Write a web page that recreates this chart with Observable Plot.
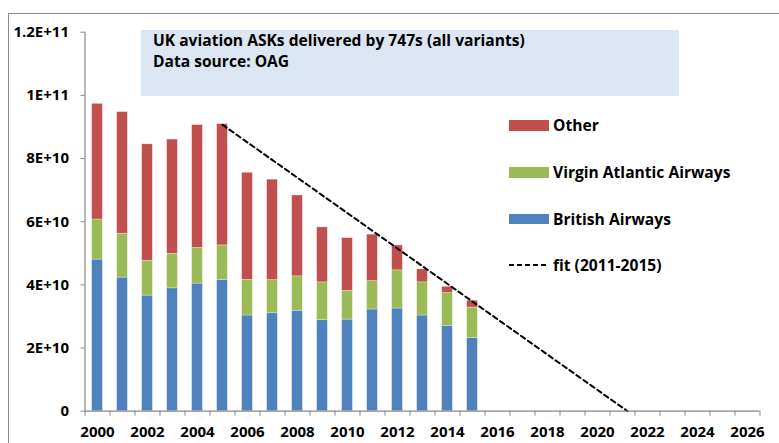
<!DOCTYPE html>
<html>
<head>
<meta charset="utf-8">
<script src="https://cdn.jsdelivr.net/npm/d3@7"></script>
<script src="https://cdn.jsdelivr.net/npm/@observablehq/plot@0.6"></script>
<style>
  html, body { margin: 0; padding: 0; background: #fff; }
  #wrap { position: relative; width: 779px; height: 443px; overflow: hidden; font-family: "Open Sans", Lato, sans-serif; font-weight: bold; color: #000; }
  #frame { position: absolute; left: 8px; top: 13px; width: 820px; height: 500px; border: 1px solid #8c8c8c; box-sizing: border-box; }
  #chart { position: absolute; left: 0; top: 0; }
  #titlebox { position: absolute; left: 141px; top: 29.5px; width: 538px; height: 66px; background: #dce6f2; }
  .tline { position: absolute; left: 153px; font-size: 15.6px; line-height: 16px; white-space: nowrap; }
  .leg { position: absolute; left: 509px; height: 20px; display: flex; align-items: center; font-size: 15.6px; white-space: nowrap; }
  .sw { width: 40px; height: 10.5px; margin-right: 4px; }
</style>
</head>
<body>
<div id="wrap">
  <div id="frame"></div>
  <div id="titlebox"></div>
  <div id="chart"></div>
  <div id="title"></div>
  <div id="legend"></div>
</div>
<script>
// ---- data (values in ASKs) ----
const years = [2000, 2001, 2002, 2003, 2004, 2005, 2006, 2007, 2008, 2009, 2010, 2011, 2012, 2013, 2014, 2015];
const britishAirways = [48.0, 42.3, 36.6, 38.9, 40.4, 41.6, 30.3, 31.0, 31.8, 28.8, 29.0, 32.2, 32.5, 30.3, 26.9, 23.2].map(v => v * 1e9);
const virginAtlantic = [12.7, 13.9, 11.0, 10.9, 11.3, 10.9, 11.3, 10.5, 10.9, 12.0, 9.1, 9.0, 12.1, 10.5, 10.5, 9.6].map(v => v * 1e9);
const other = [36.6, 38.5, 36.9, 36.2, 38.9, 38.4, 33.9, 31.8, 25.6, 17.4, 16.7, 14.7, 7.9, 4.1, 2.0, 2.2].map(v => v * 1e9);
const seriesNames = ["British Airways", "Virgin Atlantic Airways", "Other"];
const seriesColors = ["#4f81bd", "#9bbb59", "#c0504d"];
const fitYears = [2005, 2021.2];
const fitValues = [90.7e9, 0];
const fitLabel = "fit (2011-2015)";
const yTicks = [0, 2e10, 4e10, 6e10, 8e10, 1e11, 1.2e11];
const yTickLabels = ["0", "2E+10", "4E+10", "6E+10", "8E+10", "1E+11", "1.2E+11"];
const xLabelYears = [2000, 2002, 2004, 2006, 2008, 2010, 2012, 2014, 2016, 2018, 2020, 2022, 2024, 2026];
const xDomain = [1999.5, 2026.5];
const titleLines = ["UK aviation ASKs delivered by 747s (all variants)", "Data source: OAG"];

// ---- build stacked table ----
const seriesValues = [britishAirways, virginAtlantic, other];
const stacked = [];
years.forEach((yr, i) => {
  let base = 0;
  seriesValues.forEach((vals, s) => {
    stacked.push({year: yr, series: seriesNames[s], y1: base, y2: base + vals[i]});
    base += vals[i];
  });
});
const fit = fitYears.map((yr, i) => ({year: yr, value: fitValues[i]}));
const xTickPositions = d3.range(xDomain[0], xDomain[1] + 0.01, 1);

const plot = Plot.plot({
  width: 779,
  height: 443,
  marginLeft: 84.5,
  marginRight: 19.5,
  marginTop: 31.7,
  marginBottom: 32.3,
  style: {fontFamily: "'Open Sans', Lato, sans-serif", fontWeight: "bold", fontSize: "15px", color: "#000", background: "transparent"},
  x: {domain: xDomain, axis: null},
  y: {domain: [0, 1.2e11], axis: null},
  color: {domain: seriesNames, range: seriesColors},
  marks: [
    Plot.rect(stacked, {x1: d => d.year - 0.215, x2: d => d.year + 0.215, y1: "y1", y2: "y2", fill: "series", stroke: "#ffffff", strokeOpacity: 0.5, strokeWidth: 0.6}),
    Plot.line(fit, {x: "year", y: "value", stroke: "#000", strokeWidth: 2, strokeDasharray: "5,3.5"}),
    Plot.ruleX([xDomain[0]], {y1: 0, y2: 1.2e11, stroke: "#868686", strokeWidth: 1.2}),
    Plot.ruleY([0], {x1: xDomain[0], x2: xDomain[1], stroke: "#868686", strokeWidth: 1.2}),
    Plot.axisY({ticks: yTicks, label: null, tickSize: 4, tickPadding: 12, stroke: "#868686", tickFormat: d => yTickLabels[yTicks.indexOf(d)], fill: "#000"}),
    Plot.axisX({ticks: xTickPositions, label: null, tickSize: 5, tickFormat: () => "", stroke: "#868686"}),
    Plot.axisX({ticks: xLabelYears, label: null, tickSize: 0, tickPadding: 15.5, tickFormat: d => String(d), fill: "#000"})
  ]
});
document.getElementById("chart").appendChild(plot);

const titleTops = [31.6, 53.2];
document.getElementById("title").innerHTML = titleLines.map((t, i) => `<div class="tline" style="top:${titleTops[i]}px">${t}</div>`).join("");

const legendItems = [
  {label: seriesNames[2], color: seriesColors[2], top: 115.3},
  {label: seriesNames[1], color: seriesColors[1], top: 162.3},
  {label: seriesNames[0], color: seriesColors[0], top: 209},
  {label: fitLabel, dash: true, top: 255}
];
const leg = document.getElementById("legend");
legendItems.forEach(it => {
  const el = document.createElement("div");
  el.className = "leg";
  el.style.top = it.top + "px";
  if (it.dash) {
    el.innerHTML = `<svg width="40" height="10" style="margin-right:4px"><line x1="0" y1="5" x2="40" y2="5" stroke="#000" stroke-width="2" stroke-dasharray="5,3"/></svg><span>${it.label}</span>`;
  } else {
    el.innerHTML = `<div class="sw" style="background:${it.color}"></div><span>${it.label}</span>`;
  }
  leg.appendChild(el);
});
</script>
</body>
</html>
